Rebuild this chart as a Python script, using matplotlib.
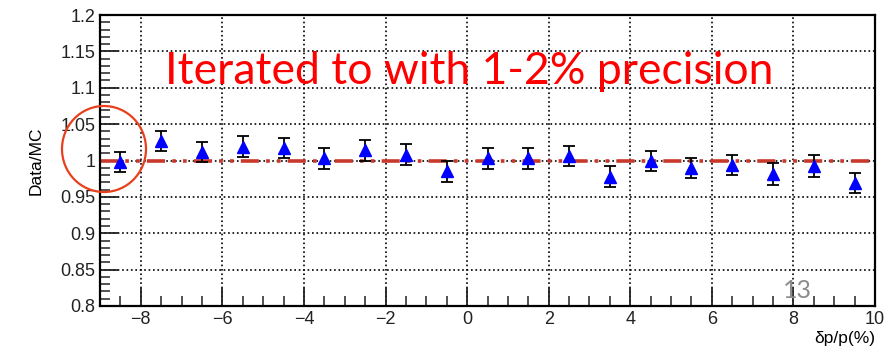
import numpy as np
import matplotlib
matplotlib.use("Agg")
import matplotlib.pyplot as plt
from matplotlib.patches import Ellipse
from matplotlib.ticker import MultipleLocator, FuncFormatter

# Data/MC ratio per momentum bin
dp = [-8.5, -7.5, -6.5, -5.5, -4.5, -3.5, -2.5, -1.5, -0.5, 0.5,
      1.5, 2.5, 3.5, 4.5, 5.5, 6.5, 7.5, 8.5, 9.5]
ratio = [0.998, 1.027, 1.012, 1.019, 1.017, 1.003, 1.014, 1.008, 0.985, 1.003,
         1.003, 1.006, 0.978, 0.999, 0.990, 0.994, 0.982, 0.993, 0.969]
err = [0.014, 0.014, 0.014, 0.014, 0.014, 0.014, 0.014, 0.014, 0.014, 0.014,
       0.014, 0.014, 0.014, 0.014, 0.014, 0.014, 0.015, 0.015, 0.014]

plt.rcParams["font.family"] = ["Liberation Sans", "DejaVu Sans"]

fig = plt.figure(figsize=(8.91, 3.47), dpi=100)
ax = fig.add_axes([100 / 891, 1 - 306 / 347, 775 / 891, 291 / 347])

ax.axhline(1.0, color="#c8392b", lw=2.6, ls=(0, (5, 2, 1, 2, 1, 2)), zorder=2)
ax.errorbar(dp, ratio, yerr=err, fmt="^", color="blue", ms=9,
            ecolor="black", elinewidth=1.3, capsize=4, capthick=1.3, zorder=3)

ax.set_xlim(-9, 10)
ax.set_ylim(0.8, 1.2)
ax.xaxis.set_major_locator(MultipleLocator(2))
ax.xaxis.set_minor_locator(MultipleLocator(0.5))
ax.yaxis.set_major_locator(MultipleLocator(0.05))
ax.yaxis.set_minor_locator(MultipleLocator(0.01))
ax.yaxis.set_major_formatter(FuncFormatter(lambda v, p: f"{v:.2f}".rstrip("0").rstrip(".")))
ax.xaxis.set_major_formatter(FuncFormatter(lambda v, p: f"{v:g}".replace("-", "\u2212")))
ax.tick_params(which="both", direction="in", right=False, top=False, labelsize=13, colors="#222222")
ax.tick_params(which="major", length=13, width=1.3)
ax.tick_params(which="minor", length=7, width=1.1)
ax.grid(True, which="major", ls=":", color="black", lw=1.2)
for s in ax.spines.values():
    s.set_linewidth(1.6)

ax.set_xlabel("δp/p(%)", fontsize=12.5, loc="right", labelpad=2)
ax.set_ylabel("Data/MC", fontsize=12.5, labelpad=12)

fig.text(165 / 891, 1 - 72 / 347, "Iterated to with 1-2% precision", color="red",
         fontsize=32, family=["Lato", "DejaVu Sans"], va="center", ha="left")
fig.text(797 / 891, 1 - 290 / 347, "13", color="#8c8c8c", fontsize=18,
         family=["Lato", "DejaVu Sans"], ha="center", va="center")

circle = Ellipse((104 / 891, 1 - 149 / 347), 84 / 891, 86 / 347, transform=fig.transFigure,
                 fill=False, edgecolor="#e8401c", lw=1.6)
fig.add_artist(circle)

fig.savefig("out.png", dpi=100)
